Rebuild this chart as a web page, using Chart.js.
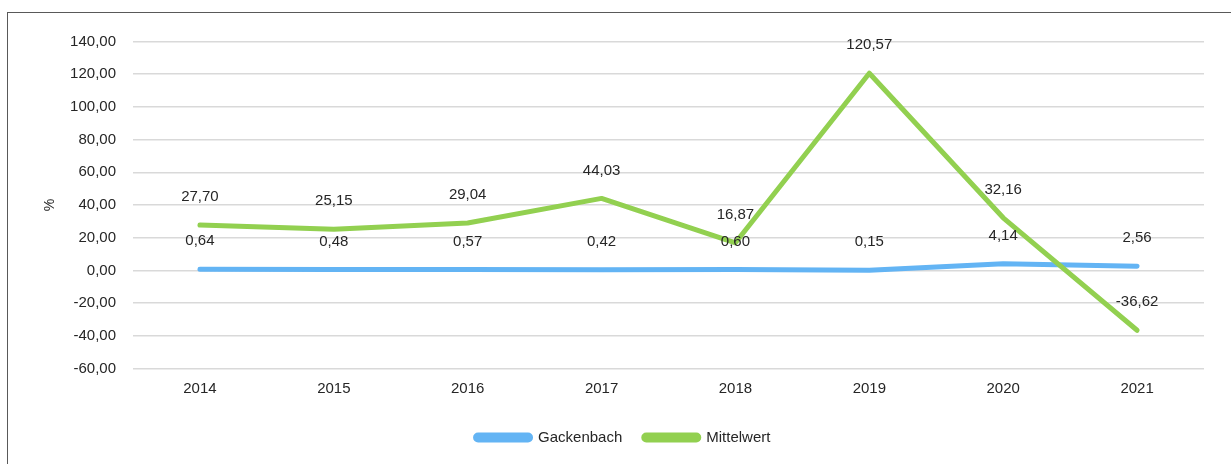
<!DOCTYPE html>
<html>
<head>
<meta charset="utf-8">
<script src="https://cdn.jsdelivr.net/npm/chart.js@4/dist/chart.umd.min.js"></script>
<style>
  html, body { margin: 0; padding: 0; background: #fff; }
  #wrap { position: relative; width: 1231px; height: 464px; overflow: hidden; }
  #frame { position: absolute; left: 7px; top: 12px; width: 1300px; height: 500px;
           border-top: 1px solid #595959; border-left: 1px solid #595959; }
  #myChart { position: absolute; left: 0; top: 0; }
</style>
</head>
<body>
<div id="wrap">
  <div id="frame"></div>
  <canvas id="myChart" width="1231" height="464"></canvas>
</div>
<script>
const years = ["2014","2015","2016","2017","2018","2019","2020","2021"];
const gackenbach = [0.64, 0.48, 0.57, 0.42, 0.60, 0.15, 4.14, 2.56];
const mittelwert = [27.70, 25.15, 29.04, 44.03, 16.87, 120.57, 32.16, -36.62];

const fmt = (v) => v.toFixed(2).replace('.', ',');
const textColor = '#262626';
const fontFamily = '"Liberation Sans", Arial, sans-serif';

// draws the value above every point
const valueLabels = {
  id: 'valueLabels',
  afterDatasetsDraw(chart) {
    const ctx = chart.ctx;
    ctx.save();
    ctx.font = '15px ' + fontFamily;
    ctx.fillStyle = textColor;
    ctx.textAlign = 'center';
    ctx.textBaseline = 'middle';
    chart.data.datasets.forEach((ds, i) => {
      const meta = chart.getDatasetMeta(i);
      meta.data.forEach((pt, j) => {
        ctx.fillText(fmt(ds.data[j]), pt.x, pt.y - 28);
      });
    });
    ctx.restore();
  }
};

const ctx1 = document.getElementById('myChart');
new Chart(ctx1, {
  type: 'line',
  data: {
    labels: years,
    datasets: [{
      label: 'Gackenbach',
      data: gackenbach,
      borderColor: '#63b4f4',
      backgroundColor: '#63b4f4',
      borderWidth: 5,
      pointRadius: 0,
      borderCapStyle: 'round',
      borderJoinStyle: 'round',
      order: 1,
    },{
      label: 'Mittelwert',
      data: mittelwert,
      borderColor: '#92d050',
      backgroundColor: '#92d050',
      borderWidth: 5,
      pointRadius: 0,
      borderCapStyle: 'round',
      borderJoinStyle: 'round',
      order: 0,
    }]
  },
  options: {
    responsive: false,
    animation: false,
    layout: {
      padding: { left: 42, right: 27, top: 41.5, bottom: 9 }
    },
    plugins: {
      legend: {
        position: 'bottom',
        labels: {
          boxWidth: 55,
          boxHeight: 5,
          useBorderRadius: true,
          borderRadius: 2.5,
          padding: 21.5,
          color: textColor,
          font: { family: fontFamily, size: 15 },
          sort: (a, b) => a.datasetIndex - b.datasetIndex,
        }
      },
      tooltip: { enabled: false },
    },
    scales: {
      x: {
        offset: true,
        grid: { display: false, drawTicks: false },
        border: { display: false },
        ticks: {
          padding: 11,
          color: textColor,
          font: { family: fontFamily, size: 15 },
        }
      },
      y: {
        min: -60,
        max: 140,
        afterFit: (scale) => { scale.width = 91; },
        grid: { color: '#d9d9d9', lineWidth: 1.5, drawTicks: false },
        border: { display: false },
        ticks: {
          stepSize: 20,
          padding: 17,
          color: textColor,
          font: { family: fontFamily, size: 15 },
          callback: (v) => fmt(v),
        },
        title: {
          display: true,
          text: '%',
          color: textColor,
          padding: { top: 0, bottom: 0 },
          font: { family: fontFamily, size: 14 },
        }
      }
    }
  },
  plugins: [valueLabels]
});
</script>
</body>
</html>
